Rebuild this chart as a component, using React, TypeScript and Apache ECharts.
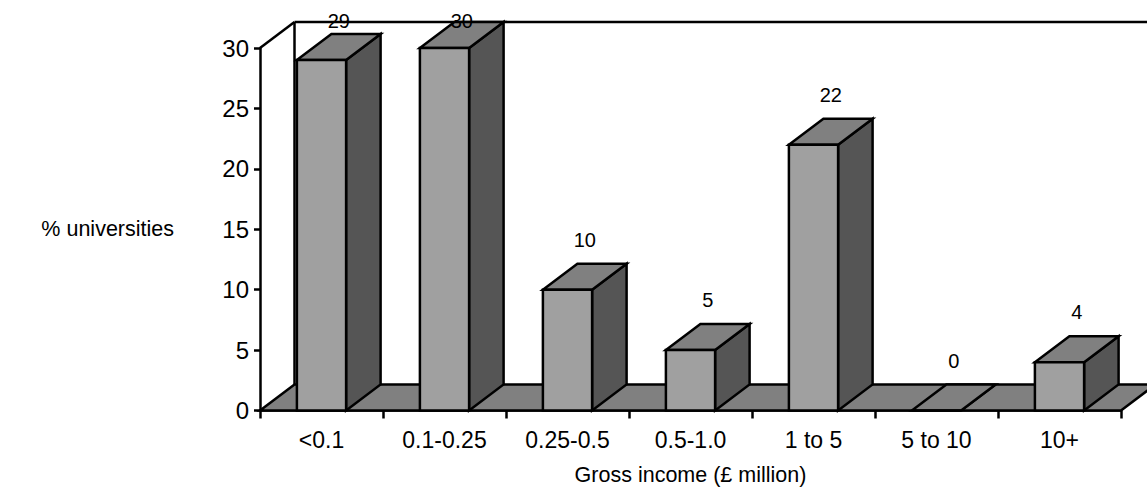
import React, { useEffect, useRef } from "react";
import * as echarts from "echarts";

// Share of universities by gross income band
const categories = ["<0.1", "0.1-0.25", "0.25-0.5", "0.5-1.0", "1 to 5", "5 to 10", "10+"];
const shares = [29, 30, 10, 5, 22, 0, 4];
const yMax = 30;
const yStep = 5;

const FONT = "'Liberation Sans', Arial, sans-serif";
const DX = 34.5; // depth offset of the 3D box, x
const DY = -26; // depth offset of the 3D box, y
const FRONT = "#a0a0a0";
const TOP = "#808080";
const SIDE = "#555555";
const FLOOR = "#808080";
const LW = 2.5;
const EDGE = { stroke: "#000", lineWidth: LW, lineJoin: "miter" as const };

export default function App() {
  const ref = useRef<HTMLDivElement>(null);

  useEffect(() => {
    if (!ref.current) return;
    const chart = echarts.init(ref.current, undefined, { renderer: "svg" });

    // floor and walls of the 3D plot box
    const renderWalls = (_params: any, api: any) => {
      const band = api.size([1, 0])[0];
      const base = api.coord([0, 0]);
      const top = api.coord([0, yMax]);
      const xl = base[0] - band / 2;
      const xr = xl + band * categories.length;
      const yb = base[1];
      const yt = top[1];
      return {
        type: "group",
        children: [
          {
            type: "polygon",
            shape: { points: [[xl, yb], [xr, yb], [xr + DX, yb + DY], [xl + DX, yb + DY]] },
            style: { fill: FLOOR, ...EDGE },
          },
          { type: "line", shape: { x1: xl, y1: yt, x2: xl + DX, y2: yt + DY }, style: { ...EDGE } },
          { type: "line", shape: { x1: xl + DX, y1: yt + DY, x2: xl + DX, y2: yb + DY }, style: { ...EDGE } },
          { type: "line", shape: { x1: xl + DX, y1: yt + DY, x2: xr + DX + 40, y2: yt + DY }, style: { ...EDGE } },
        ],
      };
    };

    // one 3D box per category, with its value above
    const renderBox = (_params: any, api: any) => {
      const idx = api.value(0);
      const val = api.value(1);
      const band = api.size([1, 0])[0];
      const bw = band * 0.4;
      const p0 = api.coord([idx, 0]);
      const p1 = api.coord([idx, val]);
      const xl = p0[0] - bw / 2;
      const xr = p0[0] + bw / 2;
      const yb = p0[1];
      const yt = p1[1];
      const labelY = Math.max(yt + DY - 24, 21);
      return {
        type: "group",
        children: [
          {
            type: "polygon",
            shape: { points: [[xr, yt], [xr + DX, yt + DY], [xr + DX, yb + DY], [xr, yb]] },
            style: { fill: SIDE, ...EDGE },
          },
          {
            type: "polygon",
            shape: { points: [[xl, yt], [xr, yt], [xr + DX, yt + DY], [xl + DX, yt + DY]] },
            style: { fill: val === 0 ? FLOOR : TOP, ...EDGE },
          },
          {
            type: "rect",
            shape: { x: xl, y: yt, width: bw, height: yb - yt },
            style: { fill: FRONT, ...EDGE },
          },
          {
            type: "text",
            x: p0[0] + DX / 2,
            y: labelY,
            style: {
              text: String(val),
              fill: "#000",
              font: `20px ${FONT}`,
              align: "center",
              verticalAlign: "middle",
            },
          },
        ],
      };
    };

    chart.setOption({
      animation: false,
      backgroundColor: "#fff",
      grid: { left: 260, right: 26, top: 48, bottom: 84.5, containLabel: false },
      xAxis: {
        type: "category",
        data: categories,
        boundaryGap: true,
        name: "Gross income (£ million)",
        nameLocation: "middle",
        nameGap: 64,
        nameTextStyle: { fontFamily: FONT, fontSize: 21.5, color: "#000", verticalAlign: "middle" },
        axisLine: { show: true, lineStyle: { color: "#000", width: LW } },
        axisTick: { show: true, length: 8, lineStyle: { color: "#000", width: LW } },
        axisLabel: { fontFamily: FONT, fontSize: 23, color: "#000", margin: 18, interval: 0 },
        splitLine: { show: false },
      },
      yAxis: {
        type: "value",
        min: 0,
        max: yMax,
        interval: yStep,
        name: "% universities",
        nameLocation: "middle",
        nameRotate: 0,
        nameGap: 86,
        nameTextStyle: { fontFamily: FONT, fontSize: 21.5, color: "#000", align: "right", verticalAlign: "middle" },
        axisLine: { show: true, lineStyle: { color: "#000", width: LW } },
        axisTick: { show: true, length: 6, lineStyle: { color: "#000", width: LW } },
        axisLabel: { fontFamily: FONT, fontSize: 24, color: "#000", margin: 11 },
        splitLine: { show: false },
      },
      series: [
        {
          type: "custom",
          name: "walls",
          renderItem: renderWalls,
          data: [[0, 0]],
          encode: { x: 0, y: 1 },
          clip: false,
          silent: true,
          z: 1,
        },
        {
          type: "custom",
          name: "% universities",
          renderItem: renderBox,
          data: shares.map((v, i) => [i, v]),
          encode: { x: 0, y: 1 },
          clip: false,
          z: 2,
        },
      ],
    });

    return () => chart.dispose();
  }, []);

  return (
    <div
      ref={ref}
      style={{ position: "fixed", left: 0, top: 0, width: 1147, height: 495, background: "#fff" }}
    />
  );
}
